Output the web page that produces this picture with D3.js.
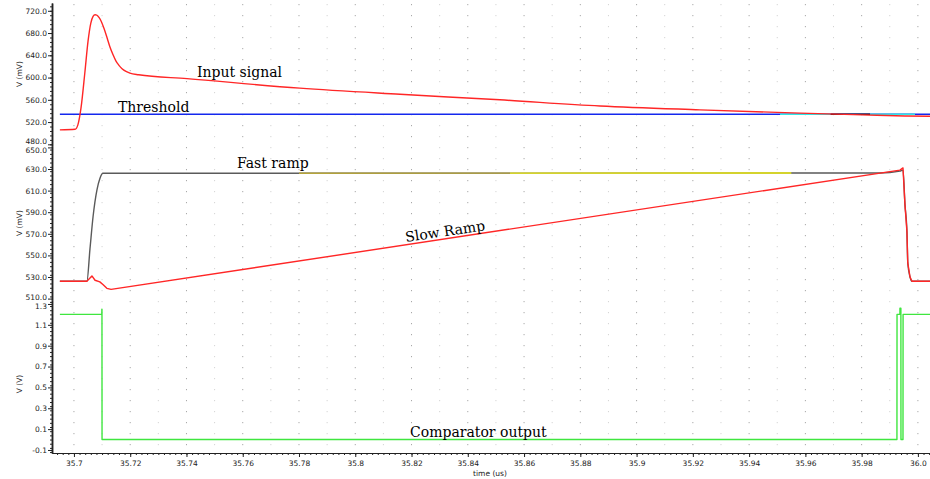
<!DOCTYPE html>
<html>
<head>
<meta charset="utf-8">
<title>Comparator waveforms</title>
<script src="https://cdn.jsdelivr.net/npm/d3@7"></script>
<style>
  body { margin: 0; background: #fff; }
  .axis text { font-family: 'DejaVu Sans', sans-serif; font-size: 7.5px; fill: #222; }
  .axis path, .axis line { stroke: #222; }
  .note { font-family: 'DejaVu Serif', serif; font-size: 14px; fill: #000; }
  .ytitle { font-family: 'DejaVu Sans', sans-serif; font-size: 7.5px; fill: #222; }
</style>
</head>
<body>
<svg id="chart" width="930" height="479"></svg>
<script>
  // time (us) / values
  var inputT = [35.6950, 35.7004, 35.7014, 35.7025, 35.7039, 35.7050, 35.7060, 35.7068, 35.7075, 35.7082,
    35.7089, 35.7098, 35.7107, 35.7118, 35.7128, 35.7139, 35.7149, 35.7160, 35.7171, 35.7185,
    35.7199, 35.7230, 35.7402, 35.7803, 35.8159, 35.8514, 35.8870, 35.9225, 35.9581, 35.9801,
    35.9954, 36.0043];
  var inputV = [506, 507, 515, 545, 610, 665, 698, 710, 713, 712,
    708, 700, 688, 671, 655, 641, 630, 622, 616, 611,
    608, 605, 598, 581, 570, 560, 549, 542, 536, 533,
    531, 530.5];

  var threshT = [35.6950, 36.0043];
  var threshV = [534, 534];

  var fastT = [35.6950, 35.7046, 35.7057, 35.7068, 35.7082, 35.7092, 35.7103, 35.9865, 35.9936, 35.9947,
    35.9954, 35.9961, 35.9964, 35.9972, 35.9979, 36.0043];
  var fastV = [526, 526, 556, 586, 611, 621, 626, 626.3, 628, 629,
    597, 572, 543, 530, 526, 526];

  var slowT = [35.6950, 35.7046, 35.7057, 35.7064, 35.7075, 35.7092, 35.7103, 35.7117, 35.7132, 35.9936,
    35.9947, 35.9954, 35.9961, 35.9964, 35.9972, 35.9979, 36.0043];
  var slowV = [526, 526, 529, 531, 527, 525.5, 523, 519.5, 518.5, 629,
    631, 597, 572, 543, 530, 526, 526];

  var compT = [35.6950, 35.70990, 35.70993, 35.70996, 35.70999, 35.99255, 35.99258, 35.99360, 35.99362, 35.99395,
    35.99398, 35.99470, 35.99473, 36.0043];
  var compV = [1.2, 1.2, 1.25, 1.25, 0.0, 0.0, 1.2, 1.2, 1.26, 1.26,
    0.0, 0.0, 1.2, 1.2];

  // colour changes along the overlapping traces
  var fastBands = [[35.78, 35.855, '#b5a43a'], [35.855, 35.955, '#f0ee10']];
  var threshBands = [[35.951, 35.969, '#30e8e8'], [35.969, 35.983, '#111'], [35.983, 35.999, '#30e8e8']];

  var xTicks = d3.range(0, 16).map(i => +(35.7 + i * 0.02).toFixed(2));
  var topTicks = [480, 520, 560, 600, 640, 680, 720];
  var midTicks = [510, 530, 550, 570, 590, 610, 630, 650];
  var botTicks = [-0.1, 0.1, 0.3, 0.5, 0.7, 0.9, 1.1, 1.3];

  var svg = d3.select('#chart');
  var left = 52, right = 930, axisY = 453;

  var x = d3.scaleLinear().domain([35.6922, 36.0043]).range([left, right]);
  var yTop = d3.scaleLinear().domain([477, 734]).range([146, 3]);
  var yMid = d3.scaleLinear().domain([508.7, 651.3]).range([300, 146]);
  var yBot = d3.scaleLinear().domain([-0.129, 1.338]).range([453, 300]);

  var defs = svg.append('defs');
  defs.append('clipPath').attr('id', 'plotclip')
    .append('rect').attr('x', left).attr('y', 0).attr('width', right - left).attr('height', axisY);

  // dotted vertical grid
  var gridT = d3.range(0, 31).map(i => +(35.7 + i * 0.01).toFixed(2));
  svg.append('g').selectAll('line')
    .data(gridT)
    .enter().append('line')
    .attr('x1', d => x(d)).attr('x2', d => x(d))
    .attr('y1', 4).attr('y2', axisY - 2)
    .attr('stroke', (d, i) => i % 2 ? '#d4d4d4' : '#a8a8a8')
    .attr('stroke-width', 1)
    .attr('stroke-dasharray', '1.2,9.8');

  function zip(T, V) { return T.map((t, i) => [t, V[i]]); }

  function drawLine(T, V, y, color, clip, curve) {
    var line = d3.line().x(d => x(d[0])).y(d => y(d[1])).curve(curve || d3.curveLinear);
    return svg.append('path')
      .datum(zip(T, V))
      .attr('d', line)
      .attr('fill', 'none')
      .attr('stroke', color)
      .attr('stroke-width', 1.4)
      .attr('stroke-linejoin', 'round')
      .attr('clip-path', 'url(#' + (clip || 'plotclip') + ')');
  }

  function bandClip(id, from, to) {
    defs.append('clipPath').attr('id', id)
      .append('rect').attr('x', x(from)).attr('y', 0)
      .attr('width', x(to) - x(from)).attr('height', axisY);
  }

  var smooth = d3.curveMonotoneX;

  // top panel
  drawLine(threshT, threshV, yTop, '#1428ee');
  threshBands.forEach((b, i) => {
    bandClip('tb' + i, b[0], b[1]);
    drawLine(threshT, threshV, yTop, b[2], 'tb' + i);
  });
  drawLine(inputT, inputV, yTop, '#ff2626', null, smooth);

  // middle panel
  drawLine(fastT, fastV, yMid, '#5a5a5a', null, smooth);
  fastBands.forEach((b, i) => {
    bandClip('fb' + i, b[0], b[1]);
    drawLine(fastT, fastV, yMid, b[2], 'fb' + i, smooth);
  });
  drawLine(slowT, slowV, yMid, '#ff2626');

  // bottom panel
  drawLine(compT, compV, yBot, '#3fe63f');

  // y axes
  function yAxis(scale, ticks, step, fmt, nudge) {
    var d = scale.domain();
    var minor = d3.range(Math.ceil(d[0] / step) * step, d[1], step);
    svg.append('g').attr('class', 'axis')
      .attr('transform', `translate(${left}, 0)`)
      .call(d3.axisLeft(scale).tickValues(minor).tickSize(2).tickSizeOuter(0).tickFormat(''));
    var g = svg.append('g').attr('class', 'axis')
      .attr('transform', `translate(${left}, 0)`)
      .call(d3.axisLeft(scale).tickValues(ticks).tickSize(4).tickPadding(1).tickSizeOuter(0).tickFormat(fmt));
    // labels at the panel joins sit on top of each other; push them apart a little
    g.selectAll('.tick text').attr('y', (v, i) => nudge[i] || 0);
  }
  yAxis(yTop, topTicks, 8, d => d.toFixed(1), [-3]);
  yAxis(yMid, midTicks, 4, d => d.toFixed(1), [-2, 0, 0, 0, 0, 0, 0, 3]);
  yAxis(yBot, botTicks, 0.04, d => d.toFixed(1), [0, 0, 0, 0, 0, 0, 0, 2]);
  svg.selectAll('.axis .domain').attr('stroke-width', 1.5);

  // x axis
  var xMinor = d3.range(0, 156).map(i => 35.694 + i * 0.002);
  svg.append('g').attr('class', 'axis')
    .attr('transform', `translate(0, ${axisY})`)
    .call(d3.axisBottom(x).tickValues(xMinor).tickSize(2).tickSizeOuter(0).tickFormat(''));
  svg.append('g').attr('class', 'axis')
    .attr('transform', `translate(0, ${axisY})`)
    .call(d3.axisBottom(x).tickValues(xTicks).tickSize(4).tickPadding(4).tickSizeOuter(0)
      .tickFormat(d => Math.round(d * 100) % 10 === 0 ? d.toFixed(1) : d.toFixed(2)));

  svg.append('text').attr('class', 'ytitle')
    .attr('x', 490).attr('y', 476).attr('text-anchor', 'middle').text('time (us)');

  [['V (mV)', 74], ['V (mV)', 223], ['V (V)', 384]].forEach(t => {
    svg.append('text').attr('class', 'ytitle')
      .attr('transform', `translate(22, ${t[1]}) rotate(-90)`)
      .attr('text-anchor', 'middle').text(t[0]);
  });

  // trace names
  svg.append('text').attr('class', 'note').attr('x', 197).attr('y', 77).text('Input signal');
  svg.append('text').attr('class', 'note').attr('x', 118).attr('y', 112).text('Threshold');
  svg.append('text').attr('class', 'note').attr('x', 237).attr('y', 168).text('Fast ramp');
  svg.append('text').attr('class', 'note')
    .attr('transform', 'translate(406, 242) rotate(-8.5)').text('Slow Ramp');
  svg.append('text').attr('class', 'note').attr('x', 410).attr('y', 437).text('Comparator output');
</script>
</body>
</html>
